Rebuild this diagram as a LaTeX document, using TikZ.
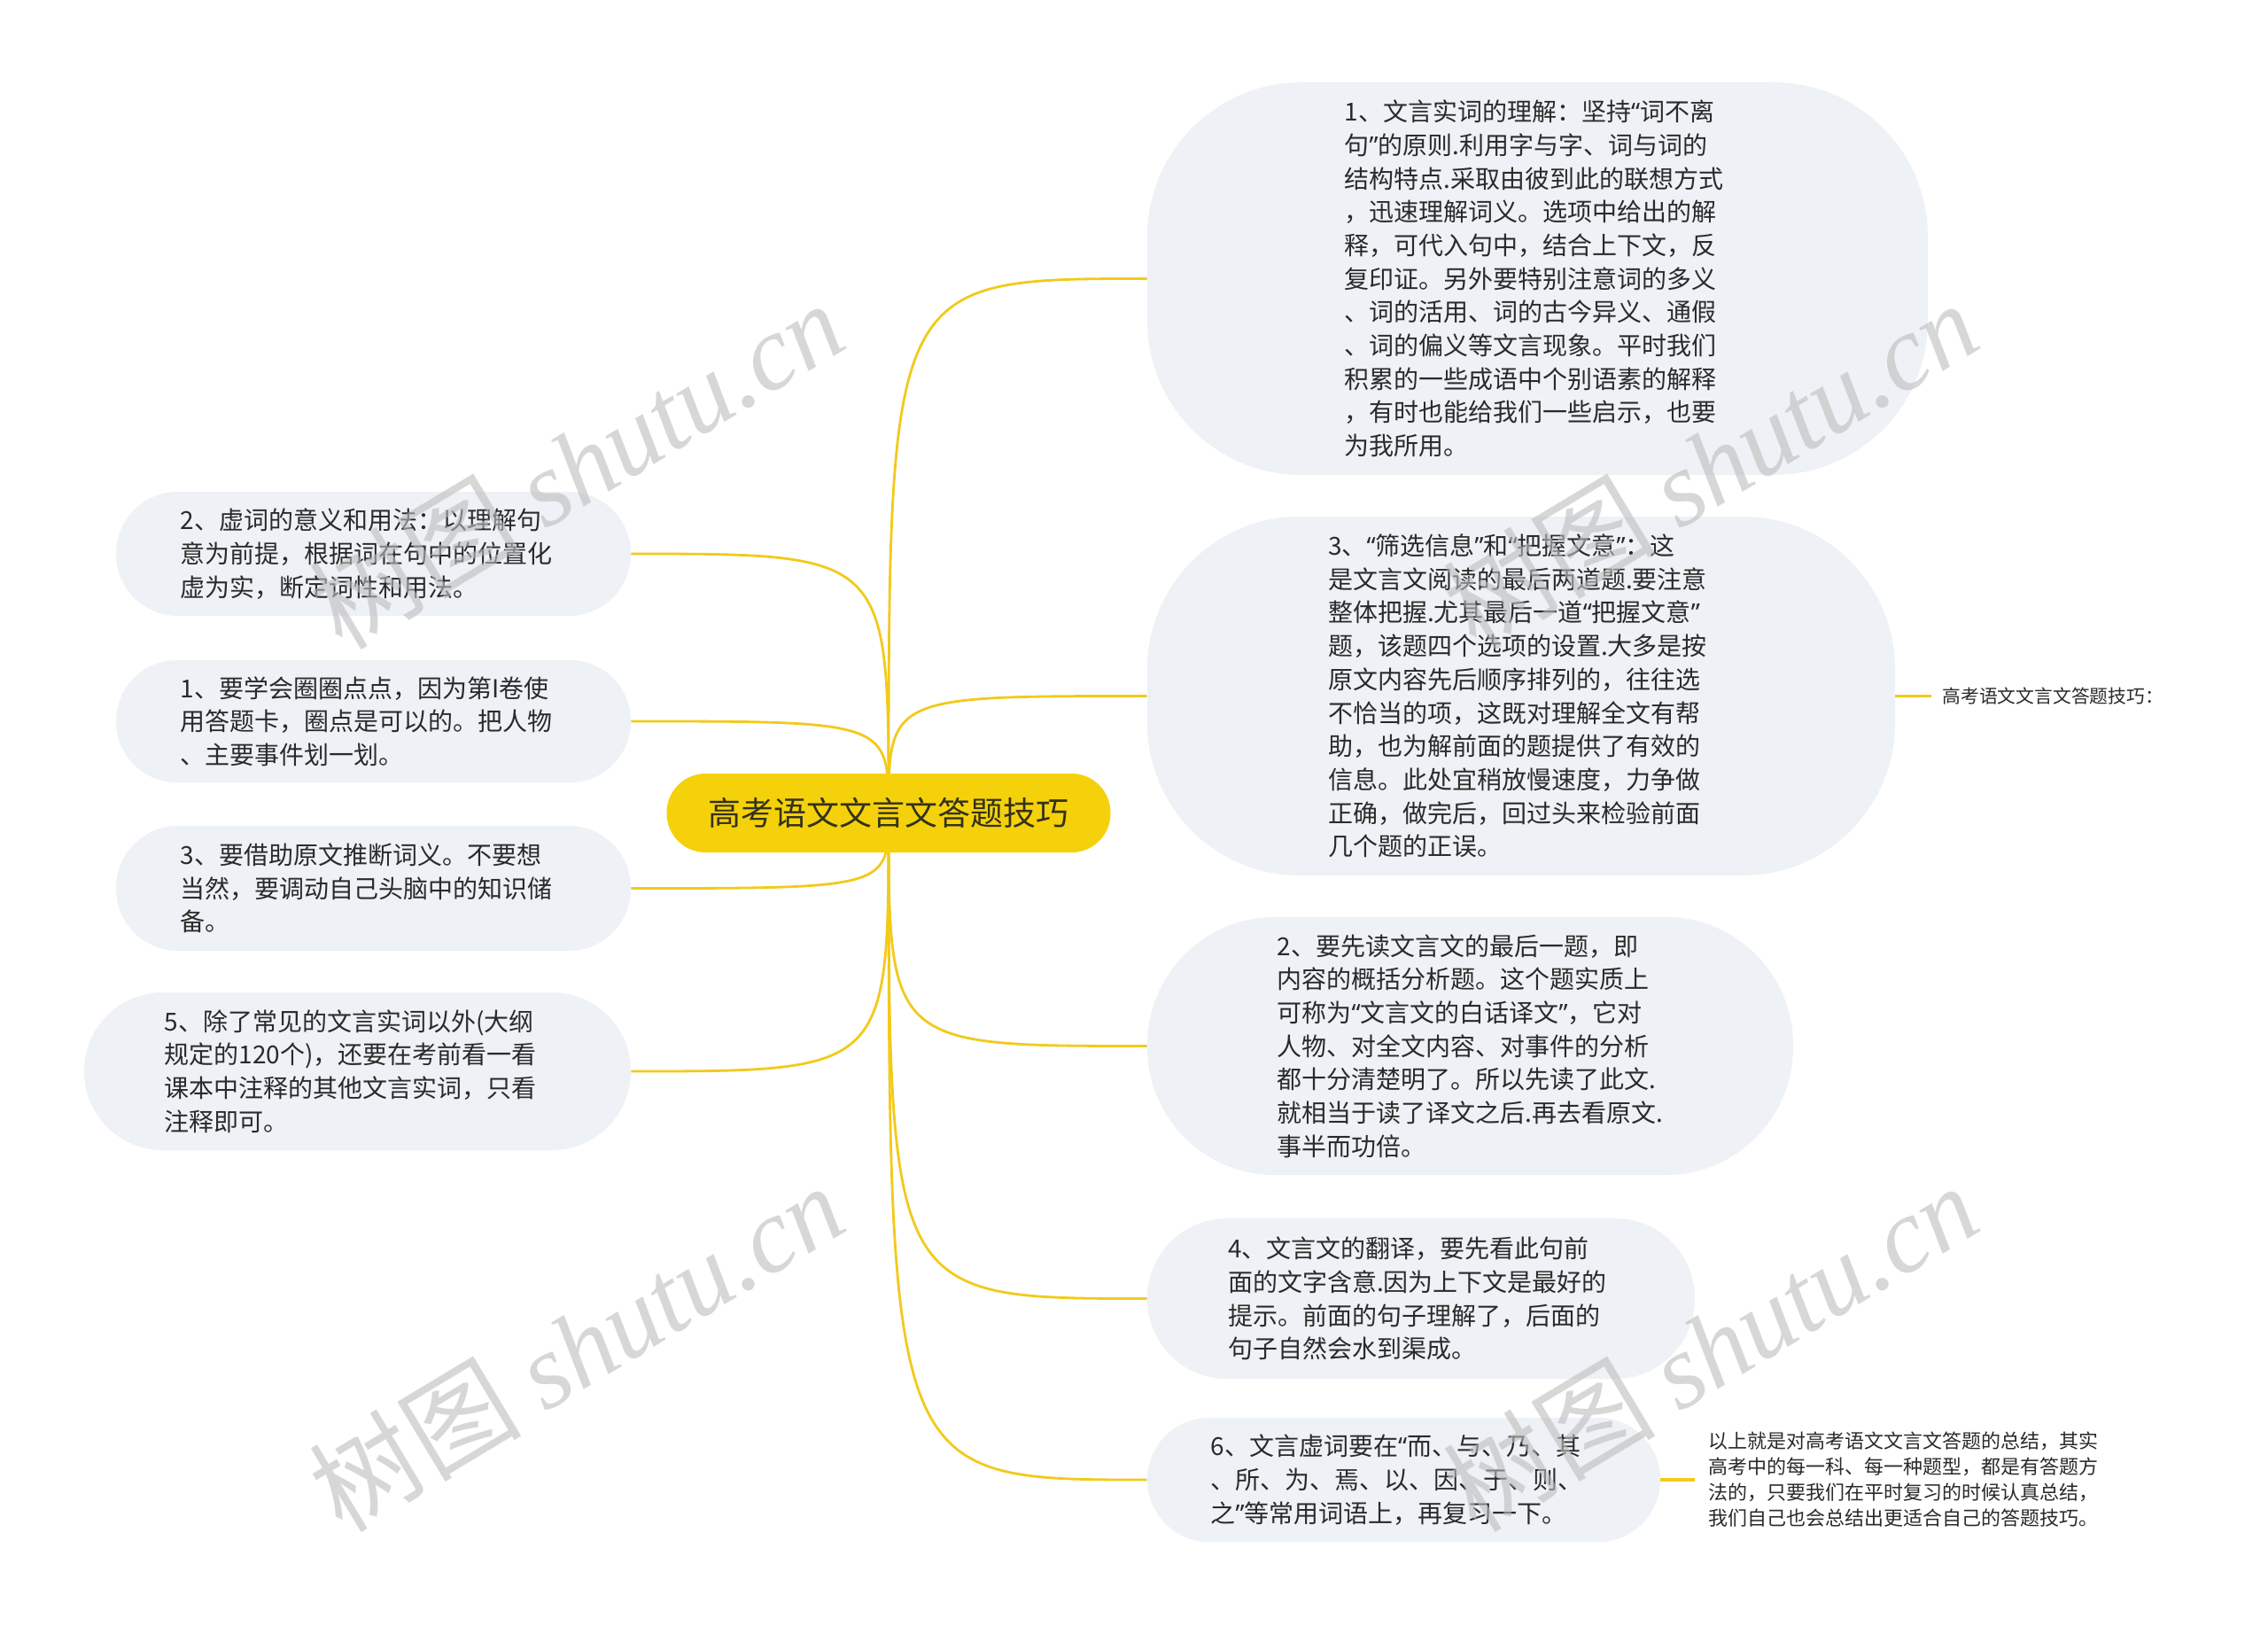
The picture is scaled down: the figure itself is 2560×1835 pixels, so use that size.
\documentclass[tikz,border=0pt]{standalone}
\usepackage{fontspec}
\setmainfont{Noto Sans CJK SC}
\newfontfamily\wmfont{Liberation Serif}
\newfontfamily\latinq{Noto Sans}
\newcommand\myoq{{\latinq “}}
\newcommand\mycq{{\latinq ”}}
\definecolor{boxfill}{HTML}{EEF1F5}
\definecolor{linec}{HTML}{F2CA1B}
\definecolor{rootfill}{HTML}{F5D10B}
\definecolor{roottext}{HTML}{33321A}
\definecolor{bodytext}{HTML}{2A2A2A}
\definecolor{wmc}{HTML}{BDBDBD}
\pgfdeclarelayer{bg}
\pgfdeclarelayer{fg}
\pgfsetlayers{bg,main,fg}
\begin{document}
\begin{tikzpicture}[x=0.5pt,y=-0.5pt,
  topic/.style={fill=boxfill,text=bodytext,align=left,text width=218pt,inner sep=0pt,font=\fontsize{14}{18.85}\selectfont},
  root/.style={fill=rootfill,text=roottext,inner sep=0pt,minimum width=250.5pt,minimum height=44.5pt,rounded corners=22pt,font=\fontsize{18.5}{22}\selectfont},
  conn/.style={draw=linec,line width=1.4pt},
  sideconn/.style={draw=linec,line width=1.8pt},
  note/.style={text=bodytext,align=left,inner ysep=0pt,anchor=west},
  wm/.style={text=wmc,opacity=0.6,rotate=31,font=\fontsize{60}{60}\selectfont}]

\useasboundingbox (0,0) rectangle (2560,1835);
\begin{pgfonlayer}{bg}
\fill[white] (0,0) rectangle (2560,1835);
\end{pgfonlayer}

\node[root] (c) at (1003,917.5) {高考语文文言文答题技巧};

\node[topic,minimum width=440.5pt,minimum height=221.5pt,rounded corners=87pt] (r1) at (1735.5,314.5) {1、文言实词的理解：坚持\myoq 词不离\\句\mycq 的原则.利用字与字、词与词的\\结构特点.采取由彼到此的联想方式\\，迅速理解词义。选项中给出的解\\释，可代入句中，结合上下文，反\\复印证。另外要特别注意词的多义\\、词的活用、词的古今异义、通假\\、词的偏义等文言现象。平时我们\\积累的一些成语中个别语素的解释\\，有时也能给我们一些启示，也要\\为我所用。};

\node[topic,minimum width=422pt,minimum height=202.5pt,rounded corners=86pt] (r2) at (1717,785.5) {3、\myoq 筛选信息\mycq 和\myoq 把握文意\mycq ：这\\是文言文阅读的最后两道题.要注意\\整体把握.尤其最后一道\myoq 把握文意\mycq\\题，该题四个选项的设置.大多是按\\原文内容先后顺序排列的，往往选\\不恰当的项，这既对理解全文有帮\\助，也为解前面的题提供了有效的\\信息。此处宜稍放慢速度，力争做\\正确，做完后，回过头来检验前面\\几个题的正误。};

\node[topic,minimum width=364.5pt,minimum height=145.5pt,rounded corners=72pt] (r3) at (1659.5,1180.5) {2、要先读文言文的最后一题，即\\内容的概括分析题。这个题实质上\\可称为\myoq 文言文的白话译文\mycq ，它对\\人物、对全文内容、对事件的分析\\都十分清楚明了。所以先读了此文.\\就相当于读了译文之后.再去看原文.\\事半而功倍。};

\node[topic,minimum width=309pt,minimum height=90.5pt,rounded corners=45pt] (r4) at (1604,1465.5) {4、文言文的翻译，要先看此句前\\面的文字含意.因为上下文是最好的\\提示。前面的句子理解了，后面的\\句子自然会水到渠成。};

\node[topic,minimum width=289.5pt,minimum height=70pt,rounded corners=34.9pt] (r5) at (1584.5,1670) {6、文言虚词要在\myoq 而、与、乃、其\\、所、为、焉、以、因、于、则、\\之\mycq 等常用词语上，再复习一下。};

\node[topic,minimum width=290.5pt,minimum height=70pt,rounded corners=34.9pt] (l1) at (421.5,625) {2、虚词的意义和用法：以理解句\\意为前提，根据词在句中的位置化\\虚为实，断定词性和用法。};

\node[topic,minimum width=290.5pt,minimum height=69pt,rounded corners=34.4pt] (l2) at (421.5,814) {1、要学会圈圈点点，因为第I卷使\\用答题卡，圈点是可以的。把人物\\、主要事件划一划。};

\node[topic,minimum width=290.5pt,minimum height=70.5pt,rounded corners=35pt] (l3) at (421.5,1002.5) {3、要借助原文推断词义。不要想\\当然，要调动自己头脑中的知识储\\备。};

\node[topic,minimum width=308.5pt,minimum height=89pt,rounded corners=44.4pt] (l4) at (403.5,1209) {5、除了常见的文言实词以外(大纲\\规定的120个)，还要在考前看一看\\课本中注释的其他文言实词，只看\\注释即可。};

\node[note,inner xsep=6pt,font=\fontsize{10.4}{13}\selectfont] (lab) at (2180,785.5) {高考语文文言文答题技巧：};

\node[note,inner xsep=7.5pt,font=\fontsize{11}{14.5}\selectfont] (sum) at (1913,1670) {以上就是对高考语文文言文答题的总结，其实\\高考中的每一科、每一种题型，都是有答题方\\法的，只要我们在平时复习的时候认真总结，\\我们自己也会总结出更适合自己的答题技巧。};

\begin{pgfonlayer}{bg}
\draw[conn] (c.center) .. controls (c.center |- r1.west) .. (r1.west);
\draw[conn] (c.center) .. controls (c.center |- r2.west) .. (r2.west);
\draw[conn] (c.center) .. controls (c.center |- r3.west) .. (r3.west);
\draw[conn] (c.center) .. controls (c.center |- r4.west) .. (r4.west);
\draw[conn] (c.center) .. controls (c.center |- r5.west) .. (r5.west);
\draw[conn] (c.center) .. controls (c.center |- l1.east) .. (l1.east);
\draw[conn] (c.center) .. controls (c.center |- l2.east) .. (l2.east);
\draw[conn] (c.center) .. controls (c.center |- l3.east) .. (l3.east);
\draw[conn] (c.center) .. controls (c.center |- l4.east) .. (l4.east);
\draw[sideconn] (r2.east) -- (lab.west);
\draw[sideconn] (r5.east) -- (sum.west);
\end{pgfonlayer}

\begin{pgfonlayer}{fg}
\node[wm] (w1) at (650,524) {树图 {\wmfont\itshape shutu.cn}};
\node[wm] (w2) at (1930,524) {树图 {\wmfont\itshape shutu.cn}};
\node[wm] (w3) at (650,1520) {树图 {\wmfont\itshape shutu.cn}};
\node[wm] (w4) at (1930,1520) {树图 {\wmfont\itshape shutu.cn}};
\end{pgfonlayer}
\end{tikzpicture}
\end{document}
